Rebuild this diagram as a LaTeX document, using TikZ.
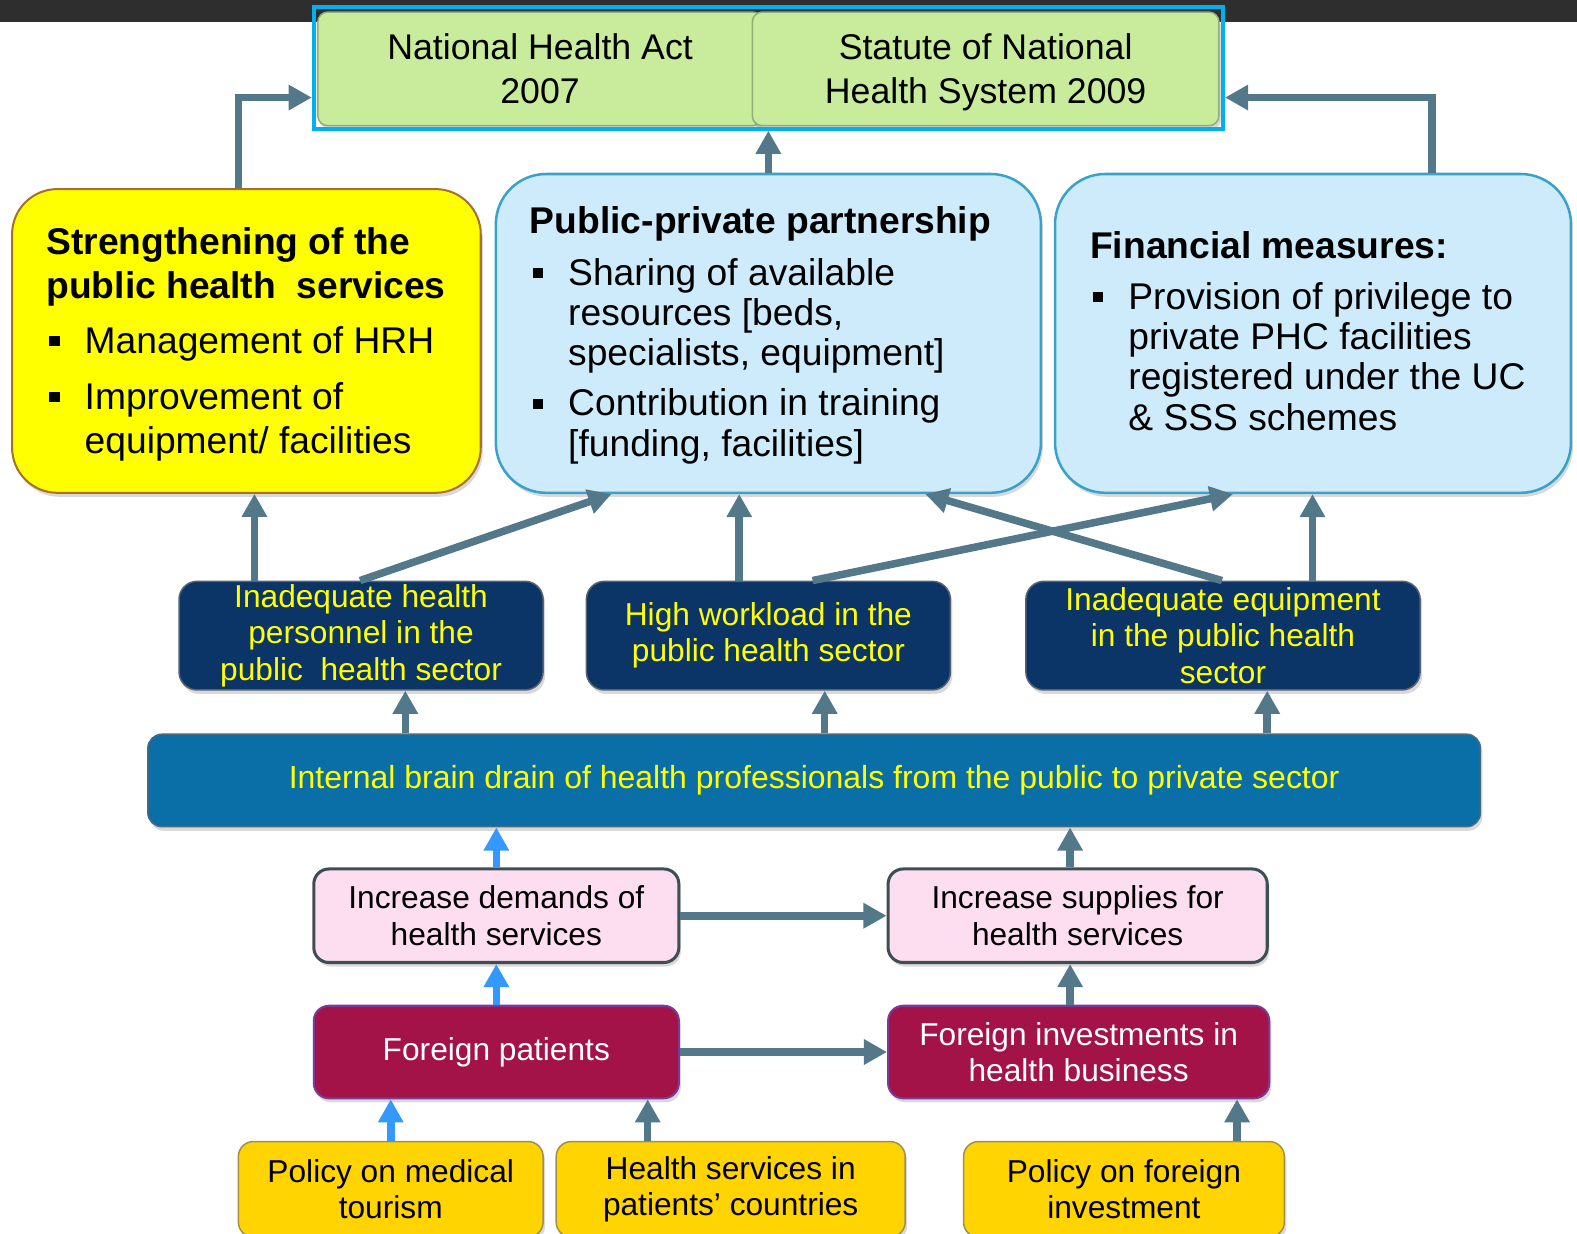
\documentclass[tikz,border=0pt]{standalone}
\usepackage{fontspec}
\setmainfont{Liberation Sans}
\usetikzlibrary{arrows.meta,shadows}
\definecolor{topbar}{HTML}{2E2E2E}
\definecolor{lawgreen}{HTML}{C8EC9C}
\definecolor{greenedge}{HTML}{8FAE7A}
\definecolor{lawcyan}{HTML}{00B0F0}
\definecolor{yelfill}{HTML}{FFFF00}
\definecolor{yeledge}{HTML}{A86F2A}
\definecolor{ltblue}{HTML}{CDEBFA}
\definecolor{ltblueedge}{HTML}{3AA2C8}
\definecolor{navy}{HTML}{0B3467}
\definecolor{navyedge}{HTML}{556270}
\definecolor{barblue}{HTML}{0A6FA6}
\definecolor{baredge}{HTML}{4A6A80}
\definecolor{pinkfill}{HTML}{FDDDF0}
\definecolor{pinkedge}{HTML}{3D4F50}
\definecolor{maroon}{HTML}{A31347}
\definecolor{maroonedge}{HTML}{7A3A9A}
\definecolor{gold}{HTML}{FFD400}
\definecolor{goldedge}{HTML}{A09050}
\definecolor{slate}{HTML}{52788A}
\definecolor{arrblue}{HTML}{3399FF}
\definecolor{txtyellow}{HTML}{FFFF00}
\newcommand\mybul{\makebox[38pt][l]{\hspace{3pt}\raisebox{7pt}{\rule{10pt}{10pt}}}}
\newcommand\myind{\hspace*{38pt}}
\newcommand\nodepth[1]{\raisebox{0pt}[\height][0pt]{#1}}
\begin{document}
\begin{tikzpicture}[x=1pt,y=-1pt,
  arr/.style={draw=slate, line width=7.5pt, -{Triangle[width=24pt,length=23pt]}},
  barr/.style={draw=arrblue, line width=7.5pt, -{Triangle[width=24pt,length=23pt]}},
  shad/.style={drop shadow={shadow xshift=2pt, shadow yshift=-4pt, opacity=0.3}},
  greenbox/.style={draw=greenedge, line width=1.5pt, fill=lawgreen, rounded corners=10pt, align=center, font=\fontsize{35.5}{44}\selectfont, minimum height=113pt, inner sep=0pt},
  yelbox/.style={draw=yeledge, line width=2pt, fill=yelfill, rounded corners=45pt, inner sep=0pt},
  bluebox/.style={draw=ltblueedge, line width=2.5pt, fill=ltblue, rounded corners=50pt, inner sep=0pt},
  bigtext/.style={align=left, inner sep=0pt, font=\fontsize{37}{44}\selectfont},
  bigtextb/.style={align=left, inner sep=0pt, font=\fontsize{37}{40}\selectfont},
  navybox/.style={draw=navyedge, line width=1.5pt, fill=navy, rounded corners=18pt, text=txtyellow, align=center, font=\fontsize{31.5}{36}\selectfont, minimum height=108pt, inner sep=0pt},
  barbox/.style={draw=baredge, line width=1.5pt, fill=barblue, rounded corners=14pt, text=txtyellow, align=center, font=\fontsize{31.8}{36}\selectfont, inner sep=0pt},
  pinkbox/.style={draw=pinkedge, line width=3pt, fill=pinkfill, rounded corners=15pt, align=center, font=\fontsize{31.5}{36}\selectfont, minimum height=93pt, inner sep=0pt},
  marbox/.style={draw=maroonedge, line width=2pt, fill=maroon, text=white, rounded corners=15pt, align=center, font=\fontsize{31.5}{36}\selectfont, minimum height=92pt, inner sep=0pt},
  goldbox/.style={draw=goldedge, line width=1.5pt, fill=gold, rounded corners=15pt, align=center, font=\fontsize{31.5}{36}\selectfont, minimum height=95pt, inner sep=0pt}
]
\useasboundingbox (0,0) rectangle (1568,1226);
\fill[topbar] (0,0) rectangle (1568,22);

% laws
\node[greenbox, shad, minimum width=442pt] (gA) at (537,68.5) {National Health Act\\2007};
\node[greenbox, shad, minimum width=464pt] (gB) at (980,68.5) {Statute of National\\\nodepth{Health System 2009}};
\node[draw=lawcyan, line width=4pt, minimum width=904pt, minimum height=121pt, inner sep=0pt] (law) at (764,67.5) {};

% measures
\node[yelbox, shad, minimum width=466pt, minimum height=302pt] (yel) at (245,339) {};
\node[bigtext, anchor=west] (yelT) at ([xshift=35pt,yshift=-3.5pt]yel.west) {%
\textbf{Strengthening of the}\\
\textbf{public health\ \ services}\\[10pt]
\mybul Management of HRH\\[12pt]
\mybul Improvement of\\
\myind equipment/ facilities};

\node[bluebox, shad, minimum width=542pt, minimum height=317pt] (ppp) at (764,331.5) {};
\node[bigtextb, anchor=west] (pppT) at ([xshift=35pt,yshift=-2pt]ppp.west) {%
\textbf{Public-private partnership}\\[11pt]
\mybul Sharing of available\\
\myind resources [beds,\\
\myind specialists, equipment]\\[10pt]
\mybul Contribution in training\\
\myind [funding, facilities]};

\node[bluebox, shad, minimum width=513pt, minimum height=317pt] (fin) at (1305.5,331.5) {};
\node[bigtextb, anchor=west] (finT) at ([xshift=36pt,yshift=2.5pt]fin.west) {%
\textbf{Financial measures:}\\[11pt]
\mybul Provision of privilege to\\
\myind private PHC facilities\\
\myind registered under the UC\\
\myind \& SSS schemes};

% problems
\node[navybox, shad, minimum width=362pt] (A) at (359,632) {Inadequate health\\personnel in the\\public\ \ health sector};
\node[navybox, shad, minimum width=362pt] (B) at (764,632) {High workload in the\\public health sector};
\node[navybox, shad, minimum width=392pt] (C) at (1216,632) {Inadequate equipment\\in the public health\\sector};

\node[barbox, shad, minimum width=1325pt, minimum height=92pt] (bar) at (809.5,776) {Internal brain drain of health professionals from the public to private sector};

\node[pinkbox, shad, minimum width=363pt] (D) at (493.5,910.5) {Increase demands of\\health services};
\node[pinkbox, shad, minimum width=377pt] (E) at (1071.5,910.5) {Increase supplies for\\health services};

\node[marbox, shad, minimum width=363pt] (F) at (493.5,1046) {Foreign patients};
\node[marbox, shad, minimum width=379pt] (G) at (1072.5,1046) {Foreign investments in\\health business};

\node[goldbox, shad, minimum width=303pt] (H) at (388.5,1182.5) {Policy on medical\\tourism};
\node[goldbox, shad, minimum width=347pt] (I) at (726.5,1182.5) {Health services in\\patients’ countries};
\node[goldbox, shad, minimum width=319pt] (J) at (1117.5,1182.5) {Policy on foreign\\investment};

% connectors: to laws
\draw[arr] ([xshift=-8pt]yel.north) |- ([yshift=-29.5pt]law.west);
\draw[arr] (ppp.north) -- (ppp.north |- law.south);
\draw[arr] ([xshift=118.5pt]fin.north) |- ([yshift=-29.5pt]law.east);

% problems to measures
\coordinate (pA1) at ([xshift=-106pt]A.north);
\draw[arr] (pA1) -- (pA1 |- yel.south);
\draw[arr] ([xshift=-1pt]A.north) -- ([xshift=-156pt]ppp.south);
\coordinate (pB1) at ([xshift=-29pt]B.north);
\draw[arr] (pB1) -- (pB1 |- ppp.south);
\draw[arr] ([xshift=44pt]B.north) -- ([xshift=-79.5pt]fin.south);
\draw[arr] ([xshift=-1pt]C.north) -- ([xshift=156pt]ppp.south);
\coordinate (pC1) at ([xshift=89pt]C.north);
\draw[arr] (pC1) -- (pC1 |- fin.south);

% bar to problems
\coordinate (qA) at ([xshift=44pt]A.south);
\draw[arr] (qA |- bar.north) -- (qA);
\coordinate (qB) at ([xshift=56pt]B.south);
\draw[arr] (qB |- bar.north) -- (qB);
\coordinate (qC) at ([xshift=44pt]C.south);
\draw[arr] (qC |- bar.north) -- (qC);

% lower part
\draw[barr] (D.north) -- (D.north |- bar.south);
\coordinate (qE) at ([xshift=-7.5pt]E.north);
\draw[arr] (qE) -- (qE |- bar.south);
\draw[arr] (D.east) -- (E.west);
\draw[barr] (F.north) -- (D.south);
\coordinate (qG) at ([xshift=-8.5pt]G.north);
\draw[arr] (qG) -- (qG |- E.south);
\draw[arr] (F.east) -- (G.west);
\draw[barr] (H.north) -- (H.north |- F.south);
\coordinate (qI) at ([xshift=-82.5pt]I.north);
\draw[arr] (qI) -- (qI |- F.south);
\coordinate (qJ) at ([xshift=112.5pt]J.north);
\draw[arr] (qJ) -- (qJ |- G.south);
\end{tikzpicture}
\end{document}
